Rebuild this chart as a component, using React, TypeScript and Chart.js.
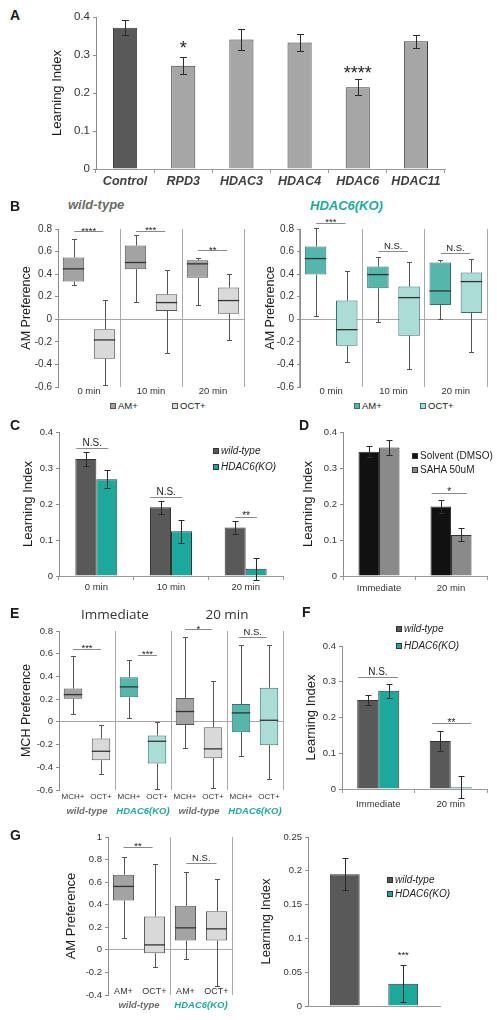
import React, { useEffect, useRef } from 'react';
import { Chart, registerables } from 'chart.js';
Chart.register(...registerables);

const FONT = "'Liberation Sans', Arial, Helvetica, sans-serif";
Chart.defaults.font.family = FONT;
Chart.defaults.color = '#333';

// ---------------- data ----------------
// Panel A
const aLabels = ['Control', 'RPD3', 'HDAC3', 'HDAC4', 'HDAC6', 'HDAC11'];
const aValues = [0.372, 0.272, 0.341, 0.333, 0.215, 0.336];
const aErr = [0.02, 0.023, 0.027, 0.022, 0.021, 0.017];
const aStars = ['', '*', '', '', '****', ''];
const aStarLevel = [0, 0.315, 0, 0, 0.25, 0];

// Panel B  (box stats: [min, q1, median, q3, max])
const timeLabels = ['0 min', '10 min', '20 min'];
const bWtAM = [[0.30, 0.334, 0.447, 0.547, 0.71], [0.157, 0.444, 0.503, 0.654, 0.745], [0.13, 0.367, 0.491, 0.524, 0.544]];
const bWtOCT = [[-0.58, -0.349, -0.183, -0.089, 0.175], [-0.302, 0.074, 0.148, 0.222, 0.44], [-0.18, 0.05, 0.166, 0.281, 0.405]];
const bKoAM = [[0.027, 0.396, 0.538, 0.645, 0.81], [-0.024, 0.275, 0.396, 0.467, 0.556], [0.003, 0.127, 0.251, 0.503, 0.524]];
const bKoOCT = [[-0.376, -0.234, -0.092, 0.166, 0.429], [-0.44, -0.145, 0.192, 0.29, 0.509], [-0.29, 0.056, 0.334, 0.414, 0.538]];
const bWtSig = ['****', '***', '**'];
const bWtSigLevel = [0.778, 0.784, 0.61];
const bKoSig = ['***', 'N.S.', 'N.S.'];
const bKoSigLevel = [0.855, 0.606, 0.59];

// Panel C
const cWt = [0.325, 0.191, 0.135];
const cWtErr = [0.019, 0.018, 0.019];
const cKo = [0.269, 0.124, 0.02];
const cKoErr = [0.025, 0.031, 0.03];
const cSig = ['N.S.', 'N.S.', '**'];
const cSigLevel = [0.356, 0.22, 0.164];

// Panel D
const dLabels = ['Immediate', '20 min'];
const dSolvent = [0.345, 0.193];
const dSolventErr = [0.015, 0.018];
const dSaha = [0.357, 0.114];
const dSahaErr = [0.022, 0.018];
const dSig = ['', '*'];
const dSigLevel = [0, 0.231];

// Panel E
const eHeaders = ['Immediate', '20 min'];
const eGroups = ['wild-type', 'HDAC6(KO)', 'wild-type', 'HDAC6(KO)'];
const eSub = ['MCH+', 'OCT+', 'MCH+', 'OCT+', 'MCH+', 'OCT+', 'MCH+', 'OCT+'];
const eMCH = [[0.073, 0.203, 0.24, 0.293, 0.578], [0.03, 0.217, 0.308, 0.393, 0.549], [-0.229, -0.027, 0.091, 0.211, 0.749], [-0.303, -0.091, 0.079, 0.158, 0.675]];
const eOCT = [[-0.461, -0.338, -0.259, -0.147, -0.024], [-0.59, -0.367, -0.171, -0.121, 0], [-0.58, -0.32, -0.238, -0.047, 0.361], [-0.5, -0.206, 0.014, 0.3, 0.675]];
const eSig = ['***', '***', '*', 'N.S.'];
const eSigLevel = [0.643, 0.59, 0.816, 0.749];

// Panel F
const fLabels = ['Immediate', '20 min'];
const fWt = [0.249, 0.134];
const fWtErr = [0.014, 0.028];
const fKo = [0.275, 0.005];
const fKoErr = [0.02, 0.031];
const fSig = ['N.S.', '**'];
const fSigLevel = [0.312, 0.184];

// Panel G
const gGroups = ['wild-type', 'HDAC6(KO)'];
const gSub = ['AM+', 'OCT+', 'AM+', 'OCT+'];
const gAM = [[0.107, 0.438, 0.562, 0.666, 0.822], [-0.08, 0.083, 0.195, 0.391, 0.689]];
const gOCT = [[-0.154, -0.03, 0.044, 0.296, 0.764], [-0.317, 0.083, 0.186, 0.343, 0.624]];
const gSig = ['**', 'N.S.'];
const gSigLevel = [0.911, 0.769];
const gWt = [0.195];
const gWtErr = [0.024];
const gKo = [0.033];
const gKoErr = [0.027];
const gKoSig = '***';
const gKoSigLevel = 0.074;

// series names
const S_WT = 'wild-type';
const S_KO = 'HDAC6(KO)';
const S_AM = 'AM+';
const S_OCT = 'OCT+';
const S_SOLV = 'Solvent (DMSO)';
const S_SAHA = 'SAHA 50uM';

// ---------------- styles ----------------
const DARK = '#595959';
const GREY_BAR = '#a6a6a6';
const TEAL = '#1ca89b';
const TEAL_TEXT = '#22a99c';
const GREY_TEXT = '#6a6a6a';
const BOX_GREY = '#a3a3a3';
const BOX_GREY_L = '#d9d9d9';
const BOX_TEAL = '#55b6ac';
const BOX_TEAL_L = '#abdcd6';
const EDGE_GREY = '#555555';
const EDGE_TEAL = '#35706a';
const AXIS = '#8c8c8c';

type Geo = { L: number; T: number; R: number; B: number; titleX: number; titleSize: number; bottom: number };

function frame(g: Geo) {
  const left = Math.round(g.titleX - 0.6 * g.titleSize);
  const padTop = 12;
  const padRight = 10;
  const top = g.T - padTop;
  return { left, top, width: g.R + padRight - left, height: g.B + g.bottom - top, yW: g.L - left, padTop, padRight };
}

const isZero = (v: number) => Math.abs(v) < 1e-9;
const fmtTick = (v: number) => (isZero(v) ? '0' : String(Math.round(v * 1000) / 1000));

// ---------------- plugins ----------------
function errPlugin(cap = 3) {
  return {
    id: 'errbars',
    afterDatasetsDraw(chart: any) {
      const { ctx } = chart;
      const ys = chart.scales.y;
      chart.data.datasets.forEach((ds: any, di: number) => {
        if (!ds.err) return;
        const meta = chart.getDatasetMeta(di);
        meta.data.forEach((el: any, i: number) => {
          const v = ds.data[i];
          const e = ds.err[i];
          const x = Math.round(el.x) + 0.5;
          const hi = Math.round(ys.getPixelForValue(v + e)) + 0.5;
          const lo = Math.round(ys.getPixelForValue(v - e)) + 0.5;
          ctx.save();
          ctx.strokeStyle = '#2b2b2b';
          ctx.lineWidth = 1;
          ctx.beginPath();
          ctx.moveTo(x, hi); ctx.lineTo(x, lo);
          ctx.moveTo(x - cap, hi); ctx.lineTo(x + cap, hi);
          ctx.moveTo(x - cap, lo); ctx.lineTo(x + cap, lo);
          ctx.stroke();
          ctx.restore();
        });
      });
    },
  };
}

function boxPlugin() {
  return {
    id: 'boxes',
    afterDatasetsDraw(chart: any) {
      const { ctx } = chart;
      const ys = chart.scales.y;
      chart.data.datasets.forEach((ds: any, di: number) => {
        if (!ds.stats) return;
        const meta = chart.getDatasetMeta(di);
        meta.data.forEach((el: any, i: number) => {
          const s = ds.stats[i];
          const p = s.map((v: number) => ys.getPixelForValue(v));
          const x = Math.round(el.x) + 0.5;
          const hw = el.width / 2;
          const r = (v: number) => Math.round(v) + 0.5;
          ctx.save();
          ctx.strokeStyle = '#555';
          ctx.lineWidth = 1;
          ctx.beginPath();
          ctx.moveTo(x, p[3]); ctx.lineTo(x, r(p[4]));
          ctx.moveTo(x - 2.5, r(p[4])); ctx.lineTo(x + 2.5, r(p[4]));
          ctx.moveTo(x, p[1]); ctx.lineTo(x, r(p[0]));
          ctx.moveTo(x - 2.5, r(p[0])); ctx.lineTo(x + 2.5, r(p[0]));
          ctx.stroke();
          ctx.strokeStyle = '#333';
          ctx.lineWidth = 1.3;
          ctx.beginPath();
          ctx.moveTo(el.x - hw, p[2]); ctx.lineTo(el.x + hw, p[2]);
          ctx.stroke();
          ctx.restore();
        });
      });
    },
  };
}

type Sig = { a: number; b: number; y: number; text: string; line?: boolean };

function sigPlugin(items: Sig[], size: number, weight = 'normal') {
  return {
    id: 'sig',
    afterDatasetsDraw(chart: any) {
      const { ctx } = chart;
      const xs = chart.scales.x;
      const ys = chart.scales.y;
      ctx.save();
      ctx.font = `${weight} ${size}px ${FONT}`;
      ctx.textAlign = 'center';
      ctx.textBaseline = 'alphabetic';
      for (const it of items) {
        if (!it.text) continue;
        const x1 = xs.getPixelForValue(it.a);
        const x2 = xs.getPixelForValue(it.b);
        const py = ys.getPixelForValue(it.y);
        if (it.line !== false) {
          const yy = Math.round(py) + 0.5;
          ctx.strokeStyle = '#8a8a8a';
          ctx.lineWidth = 1;
          ctx.beginPath();
          ctx.moveTo(x1, yy); ctx.lineTo(x2, yy);
          ctx.stroke();
        }
        const stars = /^\*+$/.test(it.text);
        ctx.fillStyle = '#222';
        ctx.fillText(it.text, (x1 + x2) / 2, stars ? py + size * 0.25 : py - 2);
      }
      ctx.restore();
    },
  };
}

function sigItems(texts: string[], levels: number[], spans: number[][]): Sig[] {
  return texts.map((t, i) => ({ a: i + spans[i][0], b: i + spans[i][1], y: levels[i], text: t }));
}

// ---------------- option builders ----------------
function baseOptions(f: any, g: Geo, y: any, xScales: any) {
  return {
    responsive: false,
    animation: false,
    devicePixelRatio: 1,
    events: [],
    layout: { padding: { top: f.padTop, right: f.padRight, left: 0, bottom: 0 } },
    plugins: { legend: { display: false }, tooltip: { enabled: false } },
    scales: {
      ...xScales,
      y: {
        min: y.min,
        max: y.max,
        ticks: { stepSize: y.step, font: { size: y.tickSize }, color: '#333', padding: 3, callback: (v: any) => fmtTick(Number(v)) },
        grid: {
          drawOnChartArea: !!y.zero,
          color: (c: any) => (c.tick && isZero(c.tick.value) ? '#a8a8a8' : 'rgba(0,0,0,0)'),
          tickLength: 3,
          tickColor: AXIS,
        },
        border: { color: AXIS },
        title: { display: true, text: y.title, font: { size: g.titleSize }, color: '#1a1a1a', padding: 0 },
        afterFit: (s: any) => { s.width = f.yW; },
      },
    },
  };
}

function barX(font: any, padding: number, height: number, color: any = '#333', show = true) {
  return {
    type: 'category',
    offset: true,
    grid: { offset: true, drawOnChartArea: false, tickLength: 4, color: '#9a9a9a', display: show },
    border: { color: '#9a9a9a' },
    ticks: { display: show, font, color, padding, autoSkip: false, maxRotation: 0, minRotation: 0 },
    afterFit: (s: any) => { s.height = height; },
  };
}

function boxX(font: any, padding: number, height: number, color: any = '#333', weight = 0) {
  return {
    type: 'category',
    offset: true,
    weight,
    grid: { offset: true, drawOnChartArea: true, drawTicks: false, color: '#a8a8a8' },
    border: { display: false },
    ticks: { font, color, padding, autoSkip: false, maxRotation: 0, minRotation: 0 },
    afterFit: (s: any) => { s.height = height; },
  };
}

function subX(labels: string[], size: number, padding: number, height: number, mirror = false) {
  return {
    type: 'category',
    labels,
    offset: true,
    weight: 0,
    grid: { display: false, drawTicks: false },
    border: { display: false },
    ticks: { font: { size }, color: '#333', padding, mirror, autoSkip: false, maxRotation: 0, minRotation: 0 },
    afterFit: (s: any) => { s.height = height; },
  };
}

function boxDs(label: string, stats: number[][], fill: any, edge: any, barPct: number) {
  return {
    label,
    data: stats.map((s) => [s[1], s[3]]),
    stats,
    backgroundColor: fill,
    borderColor: edge,
    borderWidth: 1,
    borderSkipped: false,
    barPercentage: barPct,
    categoryPercentage: 1,
  };
}

function barDs(label: string, data: number[], err: number[], fill: any, barPct: number, catPct: number) {
  return { label, data, err, backgroundColor: fill, borderColor: '#333', borderWidth: 1, barPercentage: barPct, categoryPercentage: catPct };
}

// ---------------- geometry ----------------
const gA: Geo = { L: 96, T: 17, R: 445, B: 169, titleX: 58, titleSize: 13, bottom: 22 };
const gBw: Geo = { L: 58, T: 229, R: 244, B: 387, titleX: 26, titleSize: 12.5, bottom: 12 };
const gBk: Geo = { L: 300, T: 229, R: 487, B: 387, titleX: 270.5, titleSize: 12.5, bottom: 12 };
const gC: Geo = { L: 59, T: 432, R: 283, B: 576, titleX: 29, titleSize: 13, bottom: 20 };
const gD: Geo = { L: 343, T: 432, R: 487, B: 576, titleX: 309, titleSize: 13, bottom: 20 };
const gE: Geo = { L: 59, T: 631, R: 283, B: 790, titleX: 26, titleSize: 12.5, bottom: 26 };
const gF: Geo = { L: 342, T: 646, R: 487, B: 789, titleX: 312, titleSize: 13, bottom: 22 };
const gGl: Geo = { L: 108, T: 837, R: 232, B: 995, titleX: 72, titleSize: 13, bottom: 20 };
const gGr: Geo = { L: 308, T: 837, R: 440, B: 1006, titleX: 267, titleSize: 13, bottom: 10 };

const boxSpan = [[-0.24, 0.23], [-0.24, 0.23], [-0.24, 0.23]];

// ---------------- chart builders ----------------
const buildA = (f: any) => ({
  type: 'bar',
  data: {
    labels: aLabels,
    datasets: [{
      ...barDs('A', aValues, aErr, (c: any) => (c.dataIndex === 0 ? DARK : GREY_BAR), 0.415, 1),
      borderColor: '#3a3a3a',
    }],
  },
  options: baseOptions(f, gA, { min: 0, max: 0.4, step: 0.1, tickSize: 11.5, title: 'Learning Index' }, {
    x: barX({ size: 12.5, weight: 'bold', style: 'italic' }, 1.5, gA.bottom, '#404040'),
  }),
  plugins: [errPlugin(3.5), sigPlugin(aStars.map((t, i) => ({ a: i, b: i, y: aStarLevel[i], text: t, line: false })), 18)],
});

const buildB = (g: Geo, am: number[][], oct: number[][], fillA: string, fillO: string, edge: string, sig: string[], lev: number[]) => (f: any) => ({
  type: 'bar',
  data: {
    labels: timeLabels,
    datasets: [boxDs(S_AM, am, fillA, edge, 0.69), boxDs(S_OCT, oct, fillO, edge, 0.69)],
  },
  options: baseOptions(f, g, { min: -0.6, max: 0.8, step: 0.2, tickSize: 10, title: 'AM Preference', zero: true }, {
    x: boxX({ size: 9.5 }, -1, g.bottom),
  }),
  plugins: [boxPlugin(), sigPlugin(sigItems(sig, lev, boxSpan), 9.5)],
});

const buildC = (f: any) => ({
  type: 'bar',
  data: {
    labels: timeLabels,
    datasets: [barDs(S_WT, cWt, cWtErr, DARK, 1, 0.562), barDs(S_KO, cKo, cKoErr, TEAL, 1, 0.562)],
  },
  options: baseOptions(f, gC, { min: 0, max: 0.4, step: 0.1, tickSize: 9.5, title: 'Learning Index' }, {
    x: barX({ size: 9.5 }, 1.5, gC.bottom),
  }),
  plugins: [errPlugin(3), sigPlugin(sigItems(cSig, cSigLevel, [[-0.27, 0.16], [-0.28, 0.15], [-0.14, 0.15]]), 10)],
});

const buildD = (f: any) => ({
  type: 'bar',
  data: {
    labels: dLabels,
    datasets: [barDs(S_SOLV, dSolvent, dSolventErr, '#111111', 1, 0.57), barDs(S_SAHA, dSaha, dSahaErr, '#8a8a8a', 1, 0.57)],
  },
  options: baseOptions(f, gD, { min: 0, max: 0.4, step: 0.1, tickSize: 9.5, title: 'Learning Index' }, {
    x: barX({ size: 9.5 }, 2.3, gD.bottom),
  }),
  plugins: [errPlugin(3), sigPlugin(sigItems(dSig, dSigLevel, [[-0.27, 0.22], [-0.27, 0.22]]), 10)],
});

const isKO = (name: string) => name === S_KO;

const buildE = (f: any) => ({
  type: 'bar',
  data: {
    labels: eGroups,
    datasets: [
      boxDs('MCH+', eMCH, (c: any) => (isKO(eGroups[c.dataIndex]) ? BOX_TEAL : BOX_GREY), (c: any) => (isKO(eGroups[c.dataIndex]) ? EDGE_TEAL : EDGE_GREY), 0.66),
      boxDs(S_OCT, eOCT, (c: any) => (isKO(eGroups[c.dataIndex]) ? BOX_TEAL_L : BOX_GREY_L), (c: any) => (isKO(eGroups[c.dataIndex]) ? EDGE_TEAL : EDGE_GREY), 0.66),
    ],
  },
  options: baseOptions(f, gE, { min: -0.6, max: 0.8, step: 0.2, tickSize: 9.5, title: 'MCH Preference', zero: true }, {
    x: boxX({ size: 9.5, weight: 'bold', style: 'italic' }, 3.3, 14, (c: any) => (isKO(eGroups[c.index]) ? TEAL_TEXT : GREY_TEXT), 1),
    x2: subX(eSub, 8, 2.2, 12),
  }),
  plugins: [boxPlugin(), sigPlugin(sigItems(eSig, eSigLevel, [[-0.25, 0.25], [-0.09, 0.25], [-0.25, 0.23], [-0.29, 0.21]]), 9.5)],
});

const buildF = (f: any) => ({
  type: 'bar',
  data: {
    labels: fLabels,
    datasets: [barDs(S_WT, fWt, fWtErr, DARK, 1, 0.58), barDs(S_KO, fKo, fKoErr, TEAL, 1, 0.58)],
  },
  options: baseOptions(f, gF, { min: 0, max: 0.4, step: 0.1, tickSize: 9.5, title: 'Learning Index' }, {
    x: barX({ size: 9.5 }, 6, gF.bottom),
  }),
  plugins: [errPlugin(3), sigPlugin(sigItems(fSig, fSigLevel, [[-0.28, 0.27], [-0.26, 0.28]]), 10)],
});

const buildGl = (f: any) => ({
  type: 'bar',
  data: {
    labels: gGroups,
    datasets: [
      boxDs(S_AM, gAM, BOX_GREY, EDGE_GREY, 0.68),
      boxDs(S_OCT, gOCT, BOX_GREY_L, EDGE_GREY, 0.68),
    ],
  },
  options: baseOptions(f, gGl, { min: -0.4, max: 1, step: 0.2, tickSize: 9.5, title: 'AM Preference', zero: true }, {
    x: boxX({ size: 9.5, weight: 'bold', style: 'italic' }, 1, 16, (c: any) => (isKO(gGroups[c.index]) ? TEAL_TEXT : GREY_TEXT), 1),
    x2: subX(gSub, 9, -2.4, 4, true),
  }),
  plugins: [boxPlugin(), sigPlugin(sigItems(gSig, gSigLevel, [[-0.25, 0.22], [-0.24, 0.25]]), 9.5)],
});

const buildGr = (f: any) => ({
  type: 'bar',
  data: {
    labels: [''],
    datasets: [barDs(S_WT, gWt, gWtErr, DARK, 0.51, 0.886), barDs(S_KO, gKo, gKoErr, TEAL, 0.51, 0.886)],
  },
  options: baseOptions(f, gGr, { min: 0, max: 0.25, step: 0.05, tickSize: 9.5, title: 'Learning Index' }, {
    x: { ...barX({ size: 9 }, 0, gGr.bottom, '#333', false), grid: { display: false, drawTicks: false } },
  }),
  plugins: [errPlugin(3), sigPlugin([{ a: 0.2216, b: 0.2216, y: gKoSigLevel, text: gKoSig, line: false }], 9.5)],
});

// ---------------- components ----------------
function ChartCanvas({ geo, build }: { geo: Geo; build: (f: any) => any }) {
  const ref = useRef<HTMLCanvasElement>(null);
  const f = frame(geo);
  useEffect(() => {
    const chart = new Chart(ref.current as HTMLCanvasElement, build(f) as any);
    return () => chart.destroy();
  }, []);
  return (
    <canvas
      ref={ref}
      width={f.width}
      height={f.height}
      style={{ position: 'absolute', left: f.left, top: f.top, width: f.width, height: f.height }}
    />
  );
}

function Txt({ x, y, size, text, color = '#1a1a1a', weight = 400, italic = false, family = FONT, center = false }: any) {
  return (
    <div
      style={{
        position: 'absolute', left: x, top: y - 0.85 * size, fontSize: size, lineHeight: `${size}px`,
        fontFamily: family, fontWeight: weight, fontStyle: italic ? 'italic' : 'normal', color,
        whiteSpace: 'nowrap', transform: center ? 'translateX(-50%)' : undefined,
      }}
    >
      {text}
    </div>
  );
}

function Leg({ x, y, fill, edge = '#333', label, italic = false, size = 9.5 }: any) {
  return (
    <div
      style={{
        position: 'absolute', left: x, top: y - 6, height: 12, display: 'flex', alignItems: 'center',
        fontSize: size, lineHeight: '12px', fontFamily: FONT, fontStyle: italic ? 'italic' : 'normal',
        color: '#222', whiteSpace: 'nowrap',
      }}
    >
      <span style={{ display: 'inline-block', width: 6, height: 6, background: fill, border: `1px solid ${edge}`, boxSizing: 'border-box', marginRight: 2 }} />
      {label}
    </div>
  );
}

export default function App() {
  return (
    <div style={{ position: 'absolute', left: 0, top: 0, width: 497, height: 1020, background: '#fff', overflow: 'hidden', fontFamily: FONT }}>
      <ChartCanvas geo={gA} build={buildA} />
      <ChartCanvas geo={gBw} build={buildB(gBw, bWtAM, bWtOCT, BOX_GREY, BOX_GREY_L, EDGE_GREY, bWtSig, bWtSigLevel)} />
      <ChartCanvas geo={gBk} build={buildB(gBk, bKoAM, bKoOCT, BOX_TEAL, BOX_TEAL_L, EDGE_TEAL, bKoSig, bKoSigLevel)} />
      <ChartCanvas geo={gC} build={buildC} />
      <ChartCanvas geo={gD} build={buildD} />
      <ChartCanvas geo={gE} build={buildE} />
      <ChartCanvas geo={gF} build={buildF} />
      <ChartCanvas geo={gGl} build={buildGl} />
      <ChartCanvas geo={gGr} build={buildGr} />

      {/* panel letters */}
      <Txt x={10} y={20} size={14} weight={700} text="A" />
      <Txt x={10} y={211} size={14} weight={700} text="B" />
      <Txt x={10} y={430} size={14} weight={700} text="C" />
      <Txt x={299} y={430} size={14} weight={700} text="D" />
      <Txt x={10} y={618} size={14} weight={700} text="E" />
      <Txt x={302} y={617} size={14} weight={700} text="F" />
      <Txt x={10} y={840} size={14} weight={700} text="G" />

      {/* B titles and legends */}
      <Txt x={68} y={209.5} size={13} weight={700} italic color={GREY_TEXT} text={S_WT} />
      <Txt x={310} y={210.5} size={13} weight={700} italic color={TEAL_TEXT} text={S_KO} />
      <Leg x={110} y={406} fill={BOX_GREY} edge={EDGE_GREY} label={S_AM} />
      <Leg x={172} y={406} fill={BOX_GREY_L} edge={EDGE_GREY} label={S_OCT} />
      <Leg x={354} y={406} fill={BOX_TEAL} edge={EDGE_TEAL} label={S_AM} />
      <Leg x={420} y={406} fill={BOX_TEAL_L} edge={EDGE_TEAL} label={S_OCT} />

      {/* C legend */}
      <Leg x={213} y={451} fill={DARK} label={S_WT} italic size={10} />
      <Leg x={213} y={467} fill={TEAL} label={S_KO} italic size={10} />

      {/* D legend */}
      <Leg x={412} y={456} fill="#111111" label={S_SOLV} size={10} />
      <Leg x={412} y={470} fill="#8a8a8a" label={S_SAHA} size={10} />

      {/* E headers */}
      <Txt x={115} y={619} size={13.5} family="'Open Sans', sans-serif" color="#333" center text={eHeaders[0]} />
      <Txt x={227} y={619} size={13.5} family="'Open Sans', sans-serif" color="#333" center text={eHeaders[1]} />

      {/* F legend */}
      <Leg x={396} y={629} fill={DARK} label={S_WT} italic size={10} />
      <Leg x={396} y={646} fill={TEAL} label={S_KO} italic size={10} />

      {/* G right legend */}
      <Leg x={387} y={880} fill={DARK} label={S_WT} italic size={10} />
      <Leg x={387} y={894} fill={TEAL} label={S_KO} italic size={10} />
    </div>
  );
}
